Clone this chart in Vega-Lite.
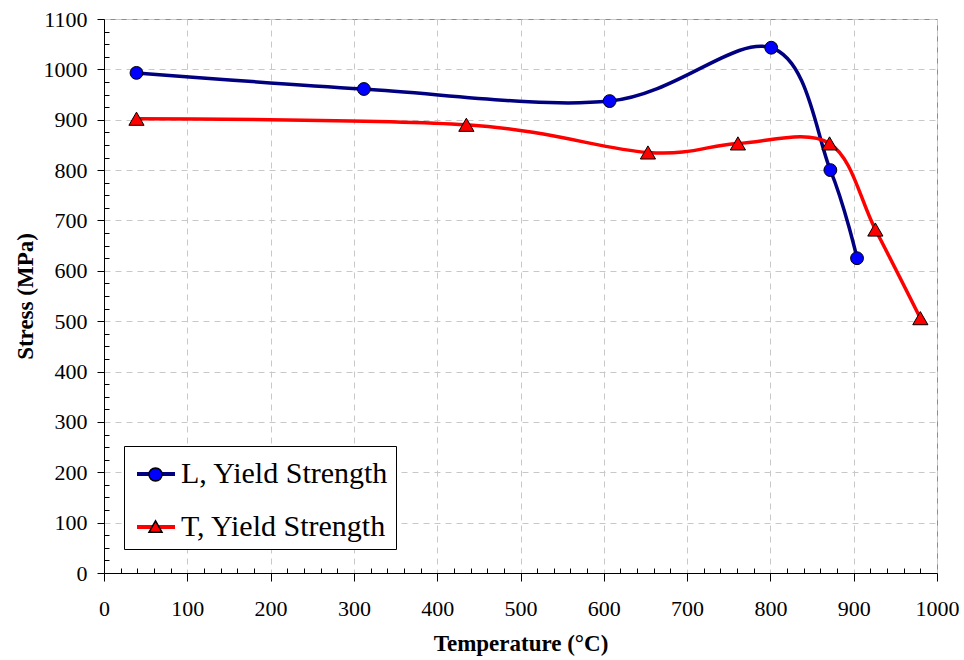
{
  "$schema": "https://vega.github.io/schema/vega-lite/v6.json",
  "width": 833,
  "height": 554,
  "autosize": {"type": "none"},
  "padding": {"left": 104, "top": 19, "right": 27, "bottom": 87},
  "background": "white",
  "config": {
    "font": "Liberation Serif",
    "view": {"stroke": "#8c8c8c", "strokeWidth": 1},
    "axis": {"labelFont": "Liberation Serif", "titleFont": "Liberation Serif"},
    "legend": {"labelFont": "Liberation Serif", "labelLimit": 400}
  },
  "data": {
    "values": [
      {"series": "L, Yield Strength", "temp": 39, "stress": 993},
      {"series": "L, Yield Strength", "temp": 312, "stress": 961},
      {"series": "L, Yield Strength", "temp": 607, "stress": 937},
      {"series": "L, Yield Strength", "temp": 801, "stress": 1043},
      {"series": "L, Yield Strength", "temp": 872, "stress": 800},
      {"series": "L, Yield Strength", "temp": 904, "stress": 625},
      {"series": "T, Yield Strength", "temp": 39, "stress": 902},
      {"series": "T, Yield Strength", "temp": 435, "stress": 890},
      {"series": "T, Yield Strength", "temp": 653, "stress": 835},
      {"series": "T, Yield Strength", "temp": 761, "stress": 853},
      {"series": "T, Yield Strength", "temp": 871, "stress": 853},
      {"series": "T, Yield Strength", "temp": 926, "stress": 682},
      {"series": "T, Yield Strength", "temp": 980, "stress": 506}
    ]
  },
  "layer": [
    {
      "mark": {"type": "line", "interpolate": "cardinal", "strokeWidth": 3.5},
      "encoding": {
        "x": {
          "field": "temp",
          "type": "quantitative",
          "scale": {"domain": [0, 1000], "nice": false, "zero": false},
          "axis": {
            "title": "Temperature (°C)",
            "values": [0, 100, 200, 300, 400, 500, 600, 700, 800, 900, 1000],
            "format": "d",
            "tickSize": 8,
            "tickColor": "black",
            "domainColor": "black",
            "labelFont": "Liberation Serif",
            "labelFontSize": 22,
            "labelColor": "black",
            "labelPadding": 17,
            "labelFlush": false,
            "labelOverlap": false,
            "titleFont": "Liberation Serif",
            "titleFontSize": 23,
            "titleFontWeight": "bold",
            "titleColor": "black",
            "titleBaseline": "alphabetic",
            "titleY": 77,
            "grid": true,
            "gridColor": "#c8c8c8",
            "gridDash": [6, 5]
          }
        },
        "y": {
          "field": "stress",
          "type": "quantitative",
          "scale": {"domain": [0, 1100], "nice": false},
          "axis": {
            "title": "Stress (MPa)",
            "values": [0, 100, 200, 300, 400, 500, 600, 700, 800, 900, 1000, 1100],
            "format": "d",
            "tickSize": 7,
            "tickColor": "black",
            "domainColor": "black",
            "labelFont": "Liberation Serif",
            "labelFontSize": 22,
            "labelColor": "black",
            "labelPadding": 10,
            "labelFlush": false,
            "labelOverlap": false,
            "titleFont": "Liberation Serif",
            "titleFontSize": 23,
            "titleFontWeight": "bold",
            "titleColor": "black",
            "titleAngle": -90,
            "titleAlign": "center",
            "titleBaseline": "alphabetic",
            "titleX": -72,
            "titleY": 277,
            "grid": true,
            "gridColor": "#c8c8c8",
            "gridDash": [6, 5]
          }
        },
        "stroke": {
          "field": "series",
          "type": "nominal",
          "scale": {"range": ["#000080", "#ff0000"]},
          "legend": {
            "title": null,
            "orient": "none",
            "legendX": 20,
            "legendY": 427,
            "symbolType": "stroke",
            "symbolSize": 1444,
            "symbolStrokeWidth": 4,
            "symbolOffset": 4,
            "labelFont": "Liberation Serif",
            "labelFontSize": 30,
            "labelLimit": 400,
            "labelColor": "black",
            "labelOffset": 4,
            "padding": 7,
            "rowPadding": 17,
            "strokeColor": "black",
            "fillColor": "white",
            "cornerRadius": 0,
            "zindex": 1
          }
        }
      }
    },
    {
      "mark": {"type": "point", "filled": true, "stroke": "black", "strokeWidth": 1, "opacity": 1},
      "encoding": {
        "x": {
          "field": "temp",
          "type": "quantitative",
          "axis": {
            "orient": "bottom",
            "values": [20, 40, 60, 80, 120, 140, 160, 180, 220, 240, 260, 280, 320, 340, 360, 380, 420, 440, 460, 480, 520, 540, 560, 580, 620, 640, 660, 680, 720, 740, 760, 780, 820, 840, 860, 880, 920, 940, 960, 980],
            "tickSize": -5,
            "tickColor": "black",
            "labels": false,
            "domain": false,
            "grid": false,
            "title": null
          }
        },
        "y": {
          "field": "stress",
          "type": "quantitative",
          "axis": {
            "orient": "left",
            "values": [25, 50, 75, 125, 150, 175, 225, 250, 275, 325, 350, 375, 425, 450, 475, 525, 550, 575, 625, 650, 675, 725, 750, 775, 825, 850, 875, 925, 950, 975, 1025, 1050, 1075],
            "tickSize": -5,
            "tickColor": "black",
            "labels": false,
            "domain": false,
            "grid": false,
            "title": null
          }
        },
        "size": {
          "field": "series",
          "type": "ordinal",
          "scale": {"domain": ["T, Yield Strength", "L, Yield Strength"], "range": [230, 165]},
          "legend": null
        },
        "fill": {
          "field": "series",
          "type": "nominal",
          "scale": {"domain": ["L, Yield Strength", "T, Yield Strength"], "range": ["#0000ff", "#ff0000"]},
          "legend": {
            "title": null,
            "orient": "none",
            "legendX": 20,
            "legendY": 427,
            "symbolSize": 170,
            "labelExpr": "''",
            "labelOffset": 0,
            "symbolOffset": 3,
            "padding": 21,
            "rowPadding": 32,
            "zindex": 2,
            "encode": {
              "symbols": {
                "update": {
                  "stroke": {"value": "black"},
                  "strokeWidth": {"value": 1},
                  "size": {"value": 170},
                  "opacity": {"value": 1}
                }
              }
            }
          }
        },
        "shape": {
          "field": "series",
          "type": "nominal",
          "scale": {"domain": ["L, Yield Strength", "T, Yield Strength"], "range": ["circle", "triangle-up"]},
          "legend": {
            "title": null,
            "orient": "none",
            "legendX": 20,
            "legendY": 427,
            "symbolSize": 170,
            "labelExpr": "''",
            "labelOffset": 0,
            "symbolOffset": 3,
            "padding": 21,
            "rowPadding": 32,
            "zindex": 2,
            "encode": {
              "symbols": {
                "update": {
                  "stroke": {"value": "black"},
                  "strokeWidth": {"value": 1},
                  "size": {"value": 170},
                  "opacity": {"value": 1}
                }
              }
            }
          }
        }
      }
    }
  ],
  "resolve": {"axis": {"x": "independent", "y": "independent"}}
}
